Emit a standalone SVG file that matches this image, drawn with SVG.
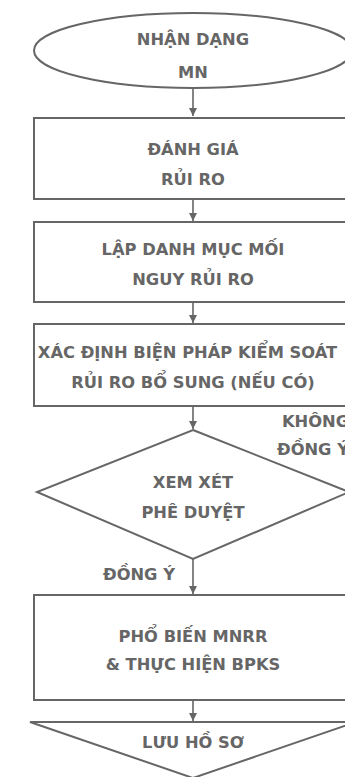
<svg xmlns="http://www.w3.org/2000/svg" width="345" height="777" viewBox="0 0 345 777">
<defs>
<marker id="ah" markerWidth="8" markerHeight="8" refX="8" refY="4" orient="auto" markerUnits="userSpaceOnUse">
<path d="M0,0 L8,4 L0,8 Z" fill="#666"/>
</marker>
<style>
.s{fill:#fff;stroke:#666;stroke-width:2}
.t{font-family:"DejaVu Sans","Liberation Sans",sans-serif;font-weight:700;font-size:16.3px;fill:#666;text-anchor:middle}
.c{stroke:#666;stroke-width:1.6;fill:none;marker-end:url(#ah)}
</style>
</defs>
<rect width="345" height="777" fill="#fff"/>
<g id="connectors">
<line class="c" x1="193" y1="88" x2="193" y2="116"/>
<line class="c" x1="193" y1="199" x2="193" y2="221"/>
<line class="c" x1="193" y1="302" x2="193" y2="323"/>
<line class="c" x1="193" y1="406" x2="193" y2="429"/>
<line class="c" x1="193" y1="559" x2="193" y2="594"/>
<line class="c" x1="193" y1="700" x2="193" y2="721"/>
<text class="t" x="103" y="580" style="text-anchor:start">ĐỒNG Ý</text>
<text class="t" x="282" y="427" style="text-anchor:start">KHÔNG</text>
<text class="t" x="277" y="455" style="text-anchor:start">ĐỒNG Ý</text>
</g>
<g id="n1">
<ellipse class="s" cx="193" cy="50.5" rx="159" ry="37.5"/>
<text class="t" x="193" y="45">NHẬN DẠNG</text>
<text class="t" x="193" y="78">MN</text>
</g>
<g id="n2">
<rect class="s" x="34" y="118" width="318" height="81"/>
<text class="t" x="193" y="155">ĐÁNH GIÁ</text>
<text class="t" x="193" y="185">RỦI RO</text>
</g>
<g id="n3">
<rect class="s" x="34" y="222" width="318" height="80"/>
<text class="t" x="193" y="255">LẬP DANH MỤC MỐI</text>
<text class="t" x="193" y="285">NGUY RỦI RO</text>
</g>
<g id="n4">
<rect class="s" x="34" y="324" width="318" height="82"/>
<text class="t" x="187.5" y="358">XÁC ĐỊNH BIỆN PHÁP KIỂM SOÁT</text>
<text class="t" x="193" y="388">RỦI RO BỔ SUNG (NẾU CÓ)</text>
</g>
<g id="n5">
<polygon class="s" points="193,430 349,492 193,559 37,492"/>
<text class="t" x="193" y="488">XEM XÉT</text>
<text class="t" x="193" y="518">PHÊ DUYỆT</text>
</g>
<g id="n6">
<rect class="s" x="34" y="595" width="318" height="105"/>
<text class="t" x="193" y="642">PHỔ BIẾN MNRR</text>
<text class="t" x="193" y="670">&amp; THỰC HIỆN BPKS</text>
</g>
<g id="n7">
<polygon class="s" points="30,722 356,722 193,778"/>
<text class="t" x="193" y="748">LƯU HỒ SƠ</text>
</g>
</svg>
